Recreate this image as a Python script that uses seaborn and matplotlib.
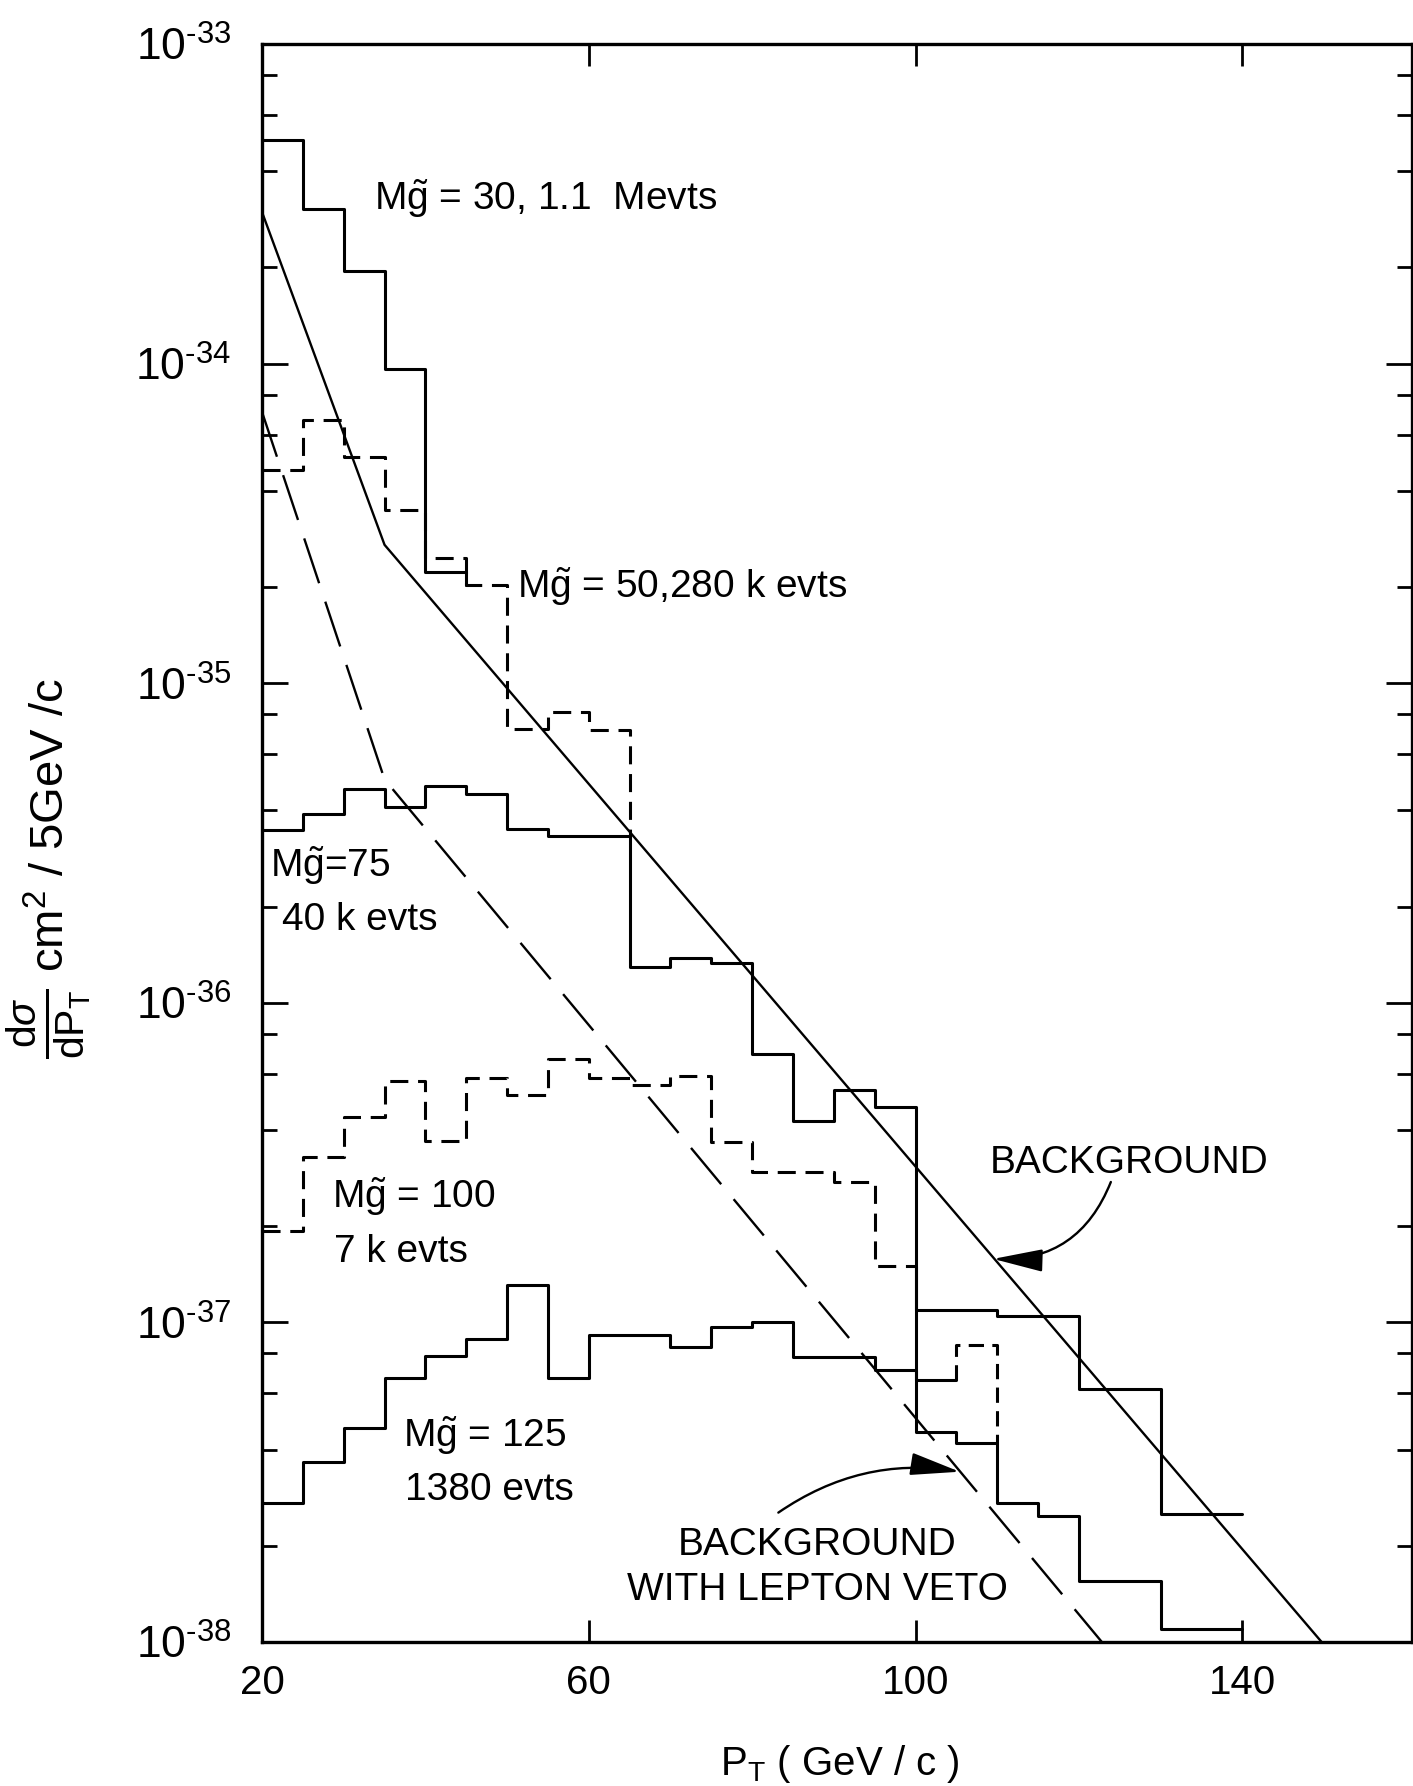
import math
import matplotlib
matplotlib.use("Agg")
import matplotlib.pyplot as plt
import seaborn as sns
from matplotlib.ticker import LogLocator, FixedLocator, NullFormatter, FuncFormatter

# ---- data -------------------------------------------------------------
# transverse-momentum histograms, 5 GeV/c bins starting at 20 GeV/c
bin_start = 20.0
bin_width = 5.0

# gluino mass 30 GeV, bins 20-45
mg30 = [5.0e-34, 3.05e-34, 1.95e-34, 9.6e-35, 2.23e-35]
# gluino mass 50 GeV, bins 20-65
mg50 = [4.63e-35, 6.65e-35, 5.12e-35, 3.49e-35, 2.47e-35, 2.03e-35,
        7.17e-36, 8.1e-36, 7.14e-36]
# gluino mass 75 GeV, bins 20-140
mg75 = [3.47e-36, 3.89e-36, 4.66e-36, 4.10e-36, 4.76e-36, 4.49e-36,
        3.51e-36, 3.32e-36, 3.32e-36, 1.29e-36, 1.38e-36, 1.33e-36,
        6.9e-37, 4.27e-37, 5.35e-37, 4.73e-37, 1.09e-37, 1.09e-37,
        1.05e-37, 1.05e-37, 6.18e-38, 6.18e-38, 2.51e-38, 2.51e-38]
# gluino mass 100 GeV, bins 20-100 (dashed) and 100-140 (solid tail)
mg100 = [1.93e-37, 3.30e-37, 4.40e-37, 5.71e-37, 3.70e-37, 5.83e-37,
         5.14e-37, 6.66e-37, 5.83e-37, 5.53e-37, 5.90e-37, 3.68e-37,
         2.96e-37, 2.96e-37, 2.74e-37, 1.50e-37]
mg100_tail = [4.55e-38, 4.2e-38, 2.72e-38, 2.47e-38, 1.55e-38, 1.55e-38,
              1.10e-38, 1.10e-38]
# gluino mass 125 GeV, bins 20-105 (solid) and 105-110 (dashed)
mg125 = [2.72e-38, 3.65e-38, 4.67e-38, 6.70e-38, 7.83e-38, 8.87e-38,
         1.31e-37, 6.68e-38, 9.13e-38, 9.13e-38, 8.35e-38, 9.69e-38,
         1.005e-37, 7.8e-38, 7.8e-38, 7.1e-38, 6.6e-38]
mg125_last = [8.5e-38]

# QCD background curves
bg_pt = [20.0, 35.0, 149.7]
bg_val = [2.98e-34, 2.71e-35, 1.0e-38]
veto_pt = [20.0, 35.0, 122.8]
veto_val = [7.06e-35, 5.0e-36, 1.0e-38]

x_ticks = [20, 60, 100, 140]
y_decades = [-38, -37, -36, -35, -34, -33]


def step_xy(x0, vals, start_from=None, end_to=None, width=bin_width):
    """Vertices of a step histogram with optional leading/trailing verticals."""
    xs, ys = [], []
    if start_from is not None:
        xs.append(x0)
        ys.append(start_from)
    for i, v in enumerate(vals):
        xs += [x0 + i * width, x0 + (i + 1) * width]
        ys += [v, v]
    if end_to is not None:
        xs.append(x0 + len(vals) * width)
        ys.append(end_to)
    return xs, ys


# ---- style ------------------------------------------------------------
sns.set_theme(style="ticks")
plt.rcParams["font.family"] = ["Liberation Sans", "DejaVu Sans"]
plt.rcParams["mathtext.fontset"] = "custom"
plt.rcParams["mathtext.rm"] = "Liberation Sans"
plt.rcParams["mathtext.it"] = "Liberation Sans:italic"
plt.rcParams["mathtext.bf"] = "Liberation Sans:bold"
plt.rcParams["mathtext.sf"] = "Liberation Sans"
plt.rcParams["lines.scale_dashes"] = False
plt.rcParams["axes.grid"] = False

W, H = 1413, 1786
fig = plt.figure(figsize=(W / 100, H / 100), dpi=100)
fig.patch.set_facecolor("white")
ax = fig.add_axes([262 / W, 1 - 1642 / H, (1411.5 - 262) / W, (1642 - 44) / H])
ax.set_facecolor("white")
ax.set_yscale("log")
ax.set_xlim(20, 160.7)
ax.set_ylim(1e-38, 1e-33)

k = "black"
hist_lw = 2.2
dash_short = (0, (13, 7))
dash_long = (0, (34, 14))


def draw(xs, ys, ls="-", lw=hist_lw):
    sns.lineplot(x=xs, y=ys, color=k, lw=lw, linestyle=ls, sort=False,
                 estimator=None, ax=ax, legend=False)


# background curves
draw(bg_pt, bg_val, lw=1.7)
draw(veto_pt, veto_val, ls=dash_long, lw=1.7)

# Mg = 30 (solid), ends by dropping onto the Mg = 50 bin
xs, ys = step_xy(bin_start, mg30, end_to=mg50[len(mg30)])
draw(xs, ys)

# Mg = 50 (dashed), ends by dropping onto the Mg = 75 bin
xs, ys = step_xy(bin_start, mg50, end_to=mg75[len(mg50) - 1])
draw(xs, ys, ls=dash_short)

# Mg = 75 (solid)
xs, ys = step_xy(bin_start, mg75)
draw(xs, ys)

# Mg = 100 (dashed to 100 GeV, solid tail afterwards)
xs, ys = step_xy(bin_start, mg100)
draw(xs, ys, ls=dash_short)
x_tail0 = bin_start + len(mg100) * bin_width
xs, ys = step_xy(x_tail0, mg100_tail, start_from=mg100[-1])
draw(xs, ys)

# Mg = 125 (solid, last bin dashed down onto the tail)
xs, ys = step_xy(bin_start, mg125)
draw(xs, ys)
x_last = bin_start + len(mg125) * bin_width
tail_idx = int((x_last - x_tail0) / bin_width)
xs, ys = step_xy(x_last, mg125_last, start_from=mg125[-1],
                 end_to=mg100_tail[tail_idx])
draw(xs, ys, ls=(0, (11, 6)))

# ---- axes decoration --------------------------------------------------
for s in ax.spines.values():
    s.set_linewidth(2.4)
    s.set_color(k)
    s.set_visible(True)

HYPHEN = "\u2010"
ax.yaxis.set_major_locator(FixedLocator([10.0 ** d for d in y_decades]))
ax.yaxis.set_minor_locator(LogLocator(base=10, subs=[2, 4, 6, 8], numticks=50))
ax.yaxis.set_minor_formatter(NullFormatter())
ax.yaxis.set_major_formatter(
    FuncFormatter(lambda v, p: "$10^{" + HYPHEN + "%d}$" % abs(round(math.log10(v)))))
ax.xaxis.set_major_locator(FixedLocator(x_ticks))
ax.xaxis.set_major_formatter(FuncFormatter(lambda v, p: "%d" % v))

ax.tick_params(axis="y", which="major", direction="in", length=19, width=2.0,
               left=True, right=True, labelsize=32, pad=22, colors=k)
ax.tick_params(axis="y", which="minor", direction="in", length=11, width=2.0,
               left=True, right=True, colors=k)
ax.tick_params(axis="x", which="major", direction="in", length=16, width=2.0,
               bottom=True, top=True, labelsize=29, pad=16, colors=k)

ax.set_xlabel(r"P$_\mathrm{T}$ ( GeV / c )", fontsize=29, color=k)
ax.xaxis.set_label_coords(0.503, -0.063)
ax.xaxis.label.set_va("top")

# y label: derivative written as a separate, larger fraction below the units
ax.set_ylabel(r"cm$^2$ / 5GeV /c", fontsize=34, color=k)
ax.yaxis.set_label_coords(-0.163, 0.511)
fig.text(49 / W, 1 - 1024 / H, r"$\frac{\mathrm{d}\sigma}{\mathrm{dP_T}}$",
         fontsize=42, rotation=90, ha="center", va="center", color=k)

# ---- labels -----------------------------------------------------------
gt = r"M$\tilde{\mathrm{g}}$"
fs = 28
ax.text(33.7, 3.03e-34, gt + " = 30, 1.1  Mevts", fontsize=fs, color=k)
ax.text(51.2, 1.85e-35, gt + " = 50,280 k evts", fontsize=fs, color=k)
ax.text(21.0, 2.48e-36, gt + "=75", fontsize=fs, color=k)
ax.text(22.4, 1.69e-36, "40 k evts", fontsize=fs, color=k)
ax.text(28.6, 2.28e-37, gt + " = 100", fontsize=fs, color=k)
ax.text(28.8, 1.55e-37, "7 k evts", fontsize=fs, color=k)
ax.text(37.3, 4.07e-38, gt + " = 125", fontsize=fs, color=k)
ax.text(37.5, 2.78e-38, "1380 evts", fontsize=fs, color=k)
ax.text(126.1, 2.94e-37, "BACKGROUND", fontsize=fs, color=k, ha="center")
ax.text(88.0, 1.87e-38, "BACKGROUND", fontsize=fs, color=k, ha="center")
ax.text(88.0, 1.35e-38, "WITH LEPTON VETO", fontsize=fs, color=k, ha="center")

arrow = dict(arrowstyle="-|>,head_length=1.1,head_width=0.25",
             color=k, lw=1.7, mutation_scale=28, shrinkA=0, shrinkB=0)
ax.annotate("", xy=(109.5, 1.58e-37), xytext=(123.9, 2.75e-37),
            arrowprops=dict(arrow, connectionstyle="arc3,rad=-0.35"))
ax.annotate("", xy=(105.4, 3.41e-38), xytext=(83.2, 2.54e-38),
            arrowprops=dict(arrow, connectionstyle="arc3,rad=-0.2"))

fig.savefig("out.png", dpi=100, facecolor="white")
